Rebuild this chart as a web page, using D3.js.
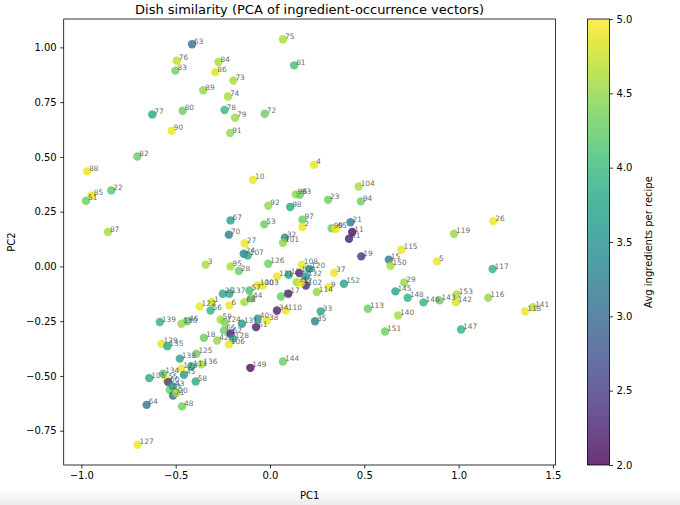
<!DOCTYPE html>
<html>
<head>
<meta charset="utf-8">
<script src="https://cdn.jsdelivr.net/npm/d3@7"></script>
<style>
  body { margin: 0; background: #fff; }
  svg { display: block; font-family: "DejaVu Sans", sans-serif; }
</style>
</head>
<body>
<div id="chart"></div>
<script>
// dish ids, PCA coordinates and avg ingredients per recipe
const dishIds = [63, 75, 76, 83, 84, 86, 81, 73, 89, 74, 77, 80, 78, 79, 72, 90, 91, 82, 88, 22,
  85, 51, 87, 10, 67, 70, 27, 24, 107, 4, 104, 96, 93, 23, 94, 92, 98, 97, 2, 53,
  21, 99, 65, 11, 41, 19, 32, 101, 3, 95, 28, 126, 108, 120, 109, 121, 12, 132, 102, 31,
  52, 37, 9, 114, 152, 100, 103, 57, 68, 44, 137, 25, 6, 1, 122, 56, 139, 46, 130, 59,
  124, 40, 38, 131, 61, 34, 110, 30, 17, 66, 62, 128, 106, 18, 42, 129, 135, 138, 125, 136,
  123, 111, 45, 58, 105, 134, 55, 60, 13, 43, 71, 20, 64, 48, 127, 149, 144, 115, 5, 15,
  150, 29, 145, 148, 146, 143, 153, 142, 113, 140, 151, 33, 35, 26, 119, 117, 116, 147, 118, 141];

const pc1 = [-0.413, 0.069, -0.494, -0.501, -0.273, -0.290, 0.128, -0.194, -0.354, -0.223, -0.624, -0.463, -0.241, -0.185, -0.028, -0.521, -0.211, -0.703, -0.969, -0.841,
  -0.945, -0.975, -0.859, -0.090, -0.209, -0.218, -0.134, -0.139, -0.118, 0.234, 0.470, 0.137, 0.158, 0.308, 0.482, -0.009, 0.107, 0.172, 0.172, -0.030,
  0.427, 0.327, 0.348, 0.436, 0.419, 0.484, 0.079, 0.069, -0.341, -0.209, -0.165, -0.009, 0.169, 0.207, 0.155, 0.037, 0.099, 0.190, 0.190, 0.142,
  0.164, 0.340, 0.313, 0.248, 0.392, -0.065, -0.039, -0.109, -0.136, -0.100, -0.215, -0.250, -0.215, -0.308, -0.373, -0.315, -0.584, -0.440, -0.470, -0.262,
  -0.240, -0.065, -0.016, -0.149, -0.074, 0.037, 0.084, 0.058, 0.097, -0.244, -0.209, -0.197, -0.218, -0.350, -0.280, -0.575, -0.544, -0.478, -0.390, -0.364,
  -0.470, -0.417, -0.456, -0.394, -0.640, -0.566, -0.549, -0.540, -0.531, -0.514, -0.514, -0.496, -0.654, -0.466, -0.702, -0.104, 0.069, 0.697, 0.885, 0.630,
  0.639, 0.712, 0.665, 0.730, 0.814, 0.899, 0.990, 0.985, 0.519, 0.679, 0.610, 0.269, 0.239, 1.184, 0.976, 1.180, 1.157, 1.013, 1.353, 1.395];

const pc2 = [1.014, 1.037, 0.939, 0.894, 0.933, 0.887, 0.918, 0.849, 0.804, 0.776, 0.694, 0.711, 0.714, 0.679, 0.697, 0.619, 0.609, 0.502, 0.434, 0.347,
  0.324, 0.300, 0.157, 0.396, 0.210, 0.145, 0.106, 0.058, 0.050, 0.464, 0.365, 0.329, 0.327, 0.304, 0.297, 0.277, 0.271, 0.213, 0.180, 0.192,
  0.202, 0.174, 0.171, 0.157, 0.126, 0.046, 0.131, 0.108, 0.008, 0.000, -0.021, 0.012, 0.008, -0.011, -0.030, -0.046, -0.038, -0.046, -0.087, -0.072,
  -0.076, -0.029, -0.094, -0.117, -0.079, -0.087, -0.087, -0.110, -0.163, -0.145, -0.125, -0.125, -0.178, -0.163, -0.183, -0.201, -0.254, -0.250, -0.262, -0.243,
  -0.255, -0.239, -0.247, -0.262, -0.277, -0.201, -0.201, -0.137, -0.125, -0.292, -0.307, -0.330, -0.356, -0.326, -0.338, -0.353, -0.364, -0.421, -0.399, -0.447,
  -0.467, -0.457, -0.495, -0.525, -0.510, -0.490, -0.517, -0.528, -0.563, -0.548, -0.589, -0.578, -0.632, -0.639, -0.814, -0.463, -0.434, 0.076, 0.023, 0.031,
  0.003, -0.073, -0.114, -0.143, -0.164, -0.155, -0.128, -0.163, -0.193, -0.224, -0.297, -0.205, -0.250, 0.207, 0.149, -0.012, -0.143, -0.288, -0.205, -0.186];

const avgIngredients = [3.1, 4.6, 4.7, 4.3, 4.6, 4.85, 4.1, 4.6, 4.5, 4.6, 3.8, 4.3, 4.0, 4.5, 4.3, 4.9, 4.5, 4.3, 4.9, 4.2,
  4.9, 4.3, 4.6, 4.9, 3.7, 3.3, 4.9, 3.3, 3.8, 4.9, 4.6, 4.5, 4.3, 4.3, 4.3, 4.5, 3.8, 4.3, 4.9, 4.3,
  3.2, 4.3, 4.9, 2.1, 2.2, 2.4, 3.4, 4.5, 4.6, 4.6, 4.3, 4.3, 4.9, 3.6, 2.3, 4.9, 3.7, 3.6, 2.3, 4.6,
  4.9, 4.9, 4.9, 4.5, 3.7, 4.9, 4.9, 4.1, 4.6, 4.3, 3.8, 3.8, 4.9, 4.8, 4.9, 3.9, 3.9, 4.2, 4.5, 4.6,
  4.4, 3.6, 4.9, 3.6, 2.2, 2.2, 4.9, 4.3, 2.3, 4.3, 2.2, 3.6, 4.9, 4.3, 4.5, 4.9, 3.8, 3.7, 4.3, 4.6,
  4.9, 3.7, 3.6, 3.8, 3.8, 4.2, 4.9, 2.5, 4.3, 3.7, 3.1, 4.6, 3.1, 4.3, 4.9, 2.1, 4.3, 4.9, 4.9, 3.2,
  4.6, 4.5, 3.7, 3.9, 3.9, 4.3, 4.6, 4.8, 4.3, 4.6, 4.3, 3.7, 3.3, 4.9, 4.5, 3.9, 4.5, 3.9, 4.9, 4.7];

const xTicks = [-1.0, -0.5, 0.0, 0.5, 1.0, 1.5];
const yTicks = [-0.75, -0.50, -0.25, 0.00, 0.25, 0.50, 0.75, 1.00];
const cbTicks = [2.0, 2.5, 3.0, 3.5, 4.0, 4.5, 5.0];

const W = 680, H = 505;
const plot = { left: 63.7, right: 555.5, top: 19, bottom: 465 };
const cb = { left: 587.5, right: 609.5, top: 19, bottom: 465 };

const svg = d3.select('#chart').append('svg')
  .attr('width', W)
  .attr('height', H);

svg.append('rect').attr('width', W).attr('height', H).attr('fill', '#fff');

// faint screenshot band at the very bottom
const grad0 = svg.append('defs').append('linearGradient')
  .attr('id', 'band').attr('x1', 0).attr('y1', 0).attr('x2', 0).attr('y2', 1);
grad0.append('stop').attr('offset', '0%').attr('stop-color', '#fff');
grad0.append('stop').attr('offset', '100%').attr('stop-color', '#ececec');
svg.append('rect').attr('x', 0).attr('y', 488).attr('width', W).attr('height', H - 488)
  .attr('fill', 'url(#band)');

const data = dishIds.map((id, i) => ({ id, x: pc1[i], y: pc2[i], v: avgIngredients[i] }));

// matplotlib-style 5% margins
function padded(ext) {
  const r = ext[1] - ext[0];
  return [ext[0] - 0.05 * r, ext[1] + 0.05 * r];
}

const x = d3.scaleLinear().domain(padded(d3.extent(pc1))).range([plot.left, plot.right]);
const y = d3.scaleLinear().domain(padded(d3.extent(pc2))).range([plot.bottom, plot.top]);
const color = d3.scaleSequential(d3.interpolateViridis).domain([2, 5]);

// points
svg.append('g')
  .selectAll('circle')
  .data(data)
  .enter().append('circle')
  .attr('cx', d => x(d.x))
  .attr('cy', d => y(d.y))
  .attr('r', 4.2)
  .attr('fill', d => color(d.v))
  .attr('fill-opacity', 0.8);

// labels
svg.append('g')
  .selectAll('text')
  .data(data)
  .enter().append('text')
  .attr('x', d => x(d.x) + 2)
  .attr('y', d => y(d.y) - 0.5)
  .attr('font-size', 7.4)
  .attr('fill', '#4a4a4a')
  .attr('fill-opacity', 0.85)
  .text(d => d.id);

// frame
svg.append('rect')
  .attr('x', plot.left).attr('y', plot.top)
  .attr('width', plot.right - plot.left).attr('height', plot.bottom - plot.top)
  .attr('fill', 'none').attr('stroke', '#000').attr('stroke-width', 0.8);

const fmt1 = d3.format('.1f');
const fmt2 = d3.format('.2f');
const minus = s => s.replace('-', '\u2212');

const xAxis = svg.append('g')
  .attr('transform', `translate(0,${plot.bottom})`)
  .call(d3.axisBottom(x).tickValues(xTicks).tickSize(3.5).tickPadding(3.5).tickFormat(d => minus(fmt1(d))));
const yAxis = svg.append('g')
  .attr('transform', `translate(${plot.left},0)`)
  .call(d3.axisLeft(y).tickValues(yTicks).tickSize(3.5).tickPadding(3.5).tickFormat(d => minus(fmt2(d))));

[xAxis, yAxis].forEach(g => {
  g.select('.domain').remove();
  g.selectAll('line').attr('stroke', '#000').attr('stroke-width', 0.8);
  g.selectAll('text').attr('font-size', 10).attr('fill', '#000')
    .attr('font-family', '"DejaVu Sans", sans-serif');
});

svg.append('text')
  .attr('x', (plot.left + plot.right) / 2).attr('y', 14)
  .attr('text-anchor', 'middle').attr('font-size', 13)
  .text('Dish similarity (PCA of ingredient-occurrence vectors)');

svg.append('text')
  .attr('x', (plot.left + plot.right) / 2).attr('y', 499)
  .attr('text-anchor', 'middle').attr('font-size', 10)
  .text('PC1');

svg.append('text')
  .attr('transform', `translate(15,${(plot.top + plot.bottom) / 2}) rotate(-90)`)
  .attr('text-anchor', 'middle').attr('font-size', 10)
  .text('PC2');

// colorbar
const cbScale = d3.scaleLinear().domain([2, 5]).range([cb.bottom, cb.top]);
const grad = svg.select('defs').append('linearGradient')
  .attr('id', 'viridis').attr('x1', 0).attr('y1', 1).attr('x2', 0).attr('y2', 0);
d3.range(0, 1.0001, 0.05).forEach(t => {
  grad.append('stop')
    .attr('offset', `${t * 100}%`)
    .attr('stop-color', color(2 + 3 * t));
});
svg.append('rect')
  .attr('x', cb.left).attr('y', cb.top)
  .attr('width', cb.right - cb.left).attr('height', cb.bottom - cb.top)
  .attr('fill', 'url(#viridis)').attr('fill-opacity', 0.8);
svg.append('rect')
  .attr('x', cb.left).attr('y', cb.top)
  .attr('width', cb.right - cb.left).attr('height', cb.bottom - cb.top)
  .attr('fill', 'none').attr('stroke', '#000').attr('stroke-width', 0.8);

const cbAxis = svg.append('g')
  .attr('transform', `translate(${cb.right},0)`)
  .call(d3.axisRight(cbScale).tickValues(cbTicks).tickSize(3.5).tickPadding(3.5).tickFormat(fmt1));
cbAxis.select('.domain').remove();
cbAxis.selectAll('line').attr('stroke', '#000').attr('stroke-width', 0.8);
cbAxis.selectAll('text').attr('font-size', 10).attr('fill', '#000')
  .attr('font-family', '"DejaVu Sans", sans-serif');

svg.append('text')
  .attr('transform', `translate(652,${(cb.top + cb.bottom) / 2}) rotate(-90)`)
  .attr('text-anchor', 'middle').attr('font-size', 10)
  .text('Avg ingredients per recipe');
</script>
</body>
</html>
